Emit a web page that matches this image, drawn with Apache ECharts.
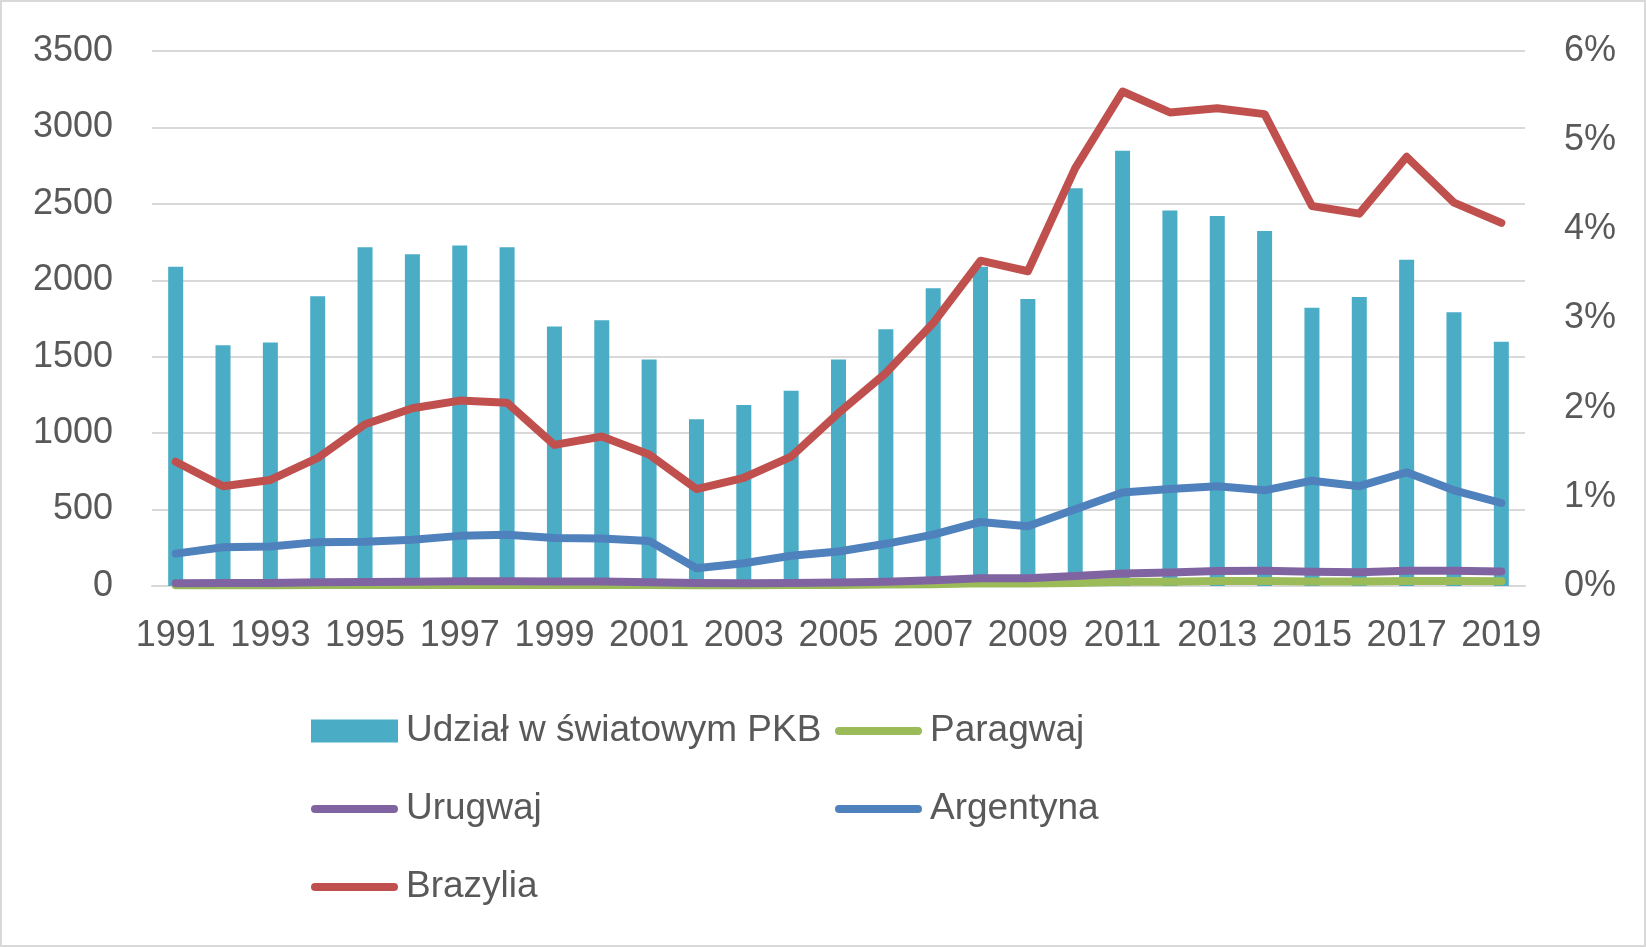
<!DOCTYPE html>
<html>
<head>
<meta charset="utf-8">
<script src="https://cdn.jsdelivr.net/npm/echarts@6/dist/echarts.min.js"></script>
<style>
  html, body { margin: 0; padding: 0; background: #fff; }
  #chart { width: 1646px; height: 947px; }
</style>
</head>
<body>
<div id="chart"></div>
<script>
// lata
const years = ['1991','1992','1993','1994','1995','1996','1997','1998','1999','2000',
  '2001','2002','2003','2004','2005','2006','2007','2008','2009','2010',
  '2011','2012','2013','2014','2015','2016','2017','2018','2019']

// udział w światowym PKB (%), prawa oś
const sharePct = [3.58, 2.70, 2.73, 3.25, 3.80, 3.72, 3.82, 3.80, 2.91, 2.98,
  2.54, 1.87, 2.03, 2.19, 2.54, 2.88, 3.34, 3.58, 3.22, 4.46,
  4.88, 4.21, 4.15, 3.98, 3.12, 3.24, 3.66, 3.07, 2.74]

// PKB krajów, lewa oś
const paragwaj = [5, 5, 5, 6, 6, 7, 7, 7, 7, 7,
  6, 5, 5, 6, 7, 9, 12, 18, 16, 20,
  27, 28, 32, 33, 30, 29, 33, 33, 31]
const urugwaj = [18, 19, 20, 24, 26, 27, 31, 31, 30, 29,
  25, 19, 18, 19, 23, 28, 37, 50, 50, 66,
  82, 88, 98, 99, 94, 90, 99, 99, 95]
const argentyna = [212, 254, 259, 287, 289, 303, 328, 336, 314, 311,
  295, 116, 149, 198, 226, 276, 336, 419, 391, 502,
  612, 634, 653, 626, 689, 653, 744, 626, 543]
const brazylia = [813, 653, 694, 838, 1058, 1163, 1213, 1199, 923, 978,
  860, 634, 708, 846, 1132, 1393, 1720, 2128, 2059, 2734,
  3235, 3098, 3125, 3087, 2486, 2436, 2808, 2508, 2376]

const leftTicks = { min: 0, max: 3500, interval: 500 }
const rightTicks = { min: 0, max: 6, interval: 1 }

const textColor = '#595959'
const gridColor = '#d9d9d9'
const fontFamily = '"Liberation Sans", Arial, sans-serif'

const lineIcon = 'path://M4,0 H83 A4,4 0 0 1 83,8 H4 A4,4 0 0 1 4,0 Z'

const chart = echarts.init(document.getElementById('chart'))

const lineSeries = (name, data, color) => ({
  name,
  type: 'line',
  data,
  yAxisIndex: 0,
  symbol: 'none',
  color,
  lineStyle: { color, width: 8, cap: 'round', join: 'round' },
  animation: false
})

const legendText = { color: textColor, fontSize: 37, lineHeight: 40, fontFamily, padding: [0, 0, 0, 3] }

chart.setOption({
  backgroundColor: '#fff',
  textStyle: { fontFamily },
  graphic: [{
    type: 'rect',
    shape: { x: 1, y: 1, width: 1644, height: 945 },
    style: { fill: 'none', stroke: gridColor, lineWidth: 2 },
    silent: true
  }],
  grid: { left: 152, right: 121, top: 51, bottom: 361 },
  legend: [{
    orient: 'vertical',
    left: 306,
    top: 706,
    itemWidth: 87,
    itemHeight: 23,
    itemGap: 38,
    textStyle: legendText,
    data: [
      { name: 'Udział w światowym PKB', icon: 'rect' },
      { name: 'Urugwaj', icon: lineIcon },
      { name: 'Brazylia', icon: lineIcon }
    ]
  }, {
    orient: 'vertical',
    left: 830,
    top: 706,
    itemWidth: 87,
    itemHeight: 23,
    itemGap: 38,
    textStyle: legendText,
    data: [
      { name: 'Paragwaj', icon: lineIcon },
      { name: 'Argentyna', icon: lineIcon }
    ]
  }],
  xAxis: {
    type: 'category',
    data: years,
    boundaryGap: true,
    axisTick: { show: false },
    axisLine: { lineStyle: { color: gridColor, width: 2 } },
    axisLabel: { color: textColor, fontSize: 36, interval: 1, margin: 32, fontFamily }
  },
  yAxis: [{
    type: 'value',
    ...leftTicks,
    axisLine: { show: false },
    axisTick: { show: false },
    splitLine: { lineStyle: { color: gridColor, width: 2 } },
    axisLabel: { color: textColor, fontSize: 36, margin: 39, fontFamily, formatter: v => String(v) }
  }, {
    type: 'value',
    ...rightTicks,
    position: 'right',
    axisLine: { show: false },
    axisTick: { show: false },
    splitLine: { show: false },
    axisLabel: { color: textColor, fontSize: 36, margin: 39, fontFamily, formatter: '{value}%' }
  }],
  series: [
    {
      name: 'Udział w światowym PKB',
      type: 'bar',
      data: sharePct,
      yAxisIndex: 1,
      barWidth: 15,
      color: '#4bacc6',
      itemStyle: { color: '#4bacc6' },
      animation: false
    },
    lineSeries('Paragwaj', paragwaj, '#9bbb59'),
    lineSeries('Urugwaj', urugwaj, '#8064a2'),
    lineSeries('Argentyna', argentyna, '#4f81bd'),
    lineSeries('Brazylia', brazylia, '#c0504d')
  ]
})
</script>
</body>
</html>
